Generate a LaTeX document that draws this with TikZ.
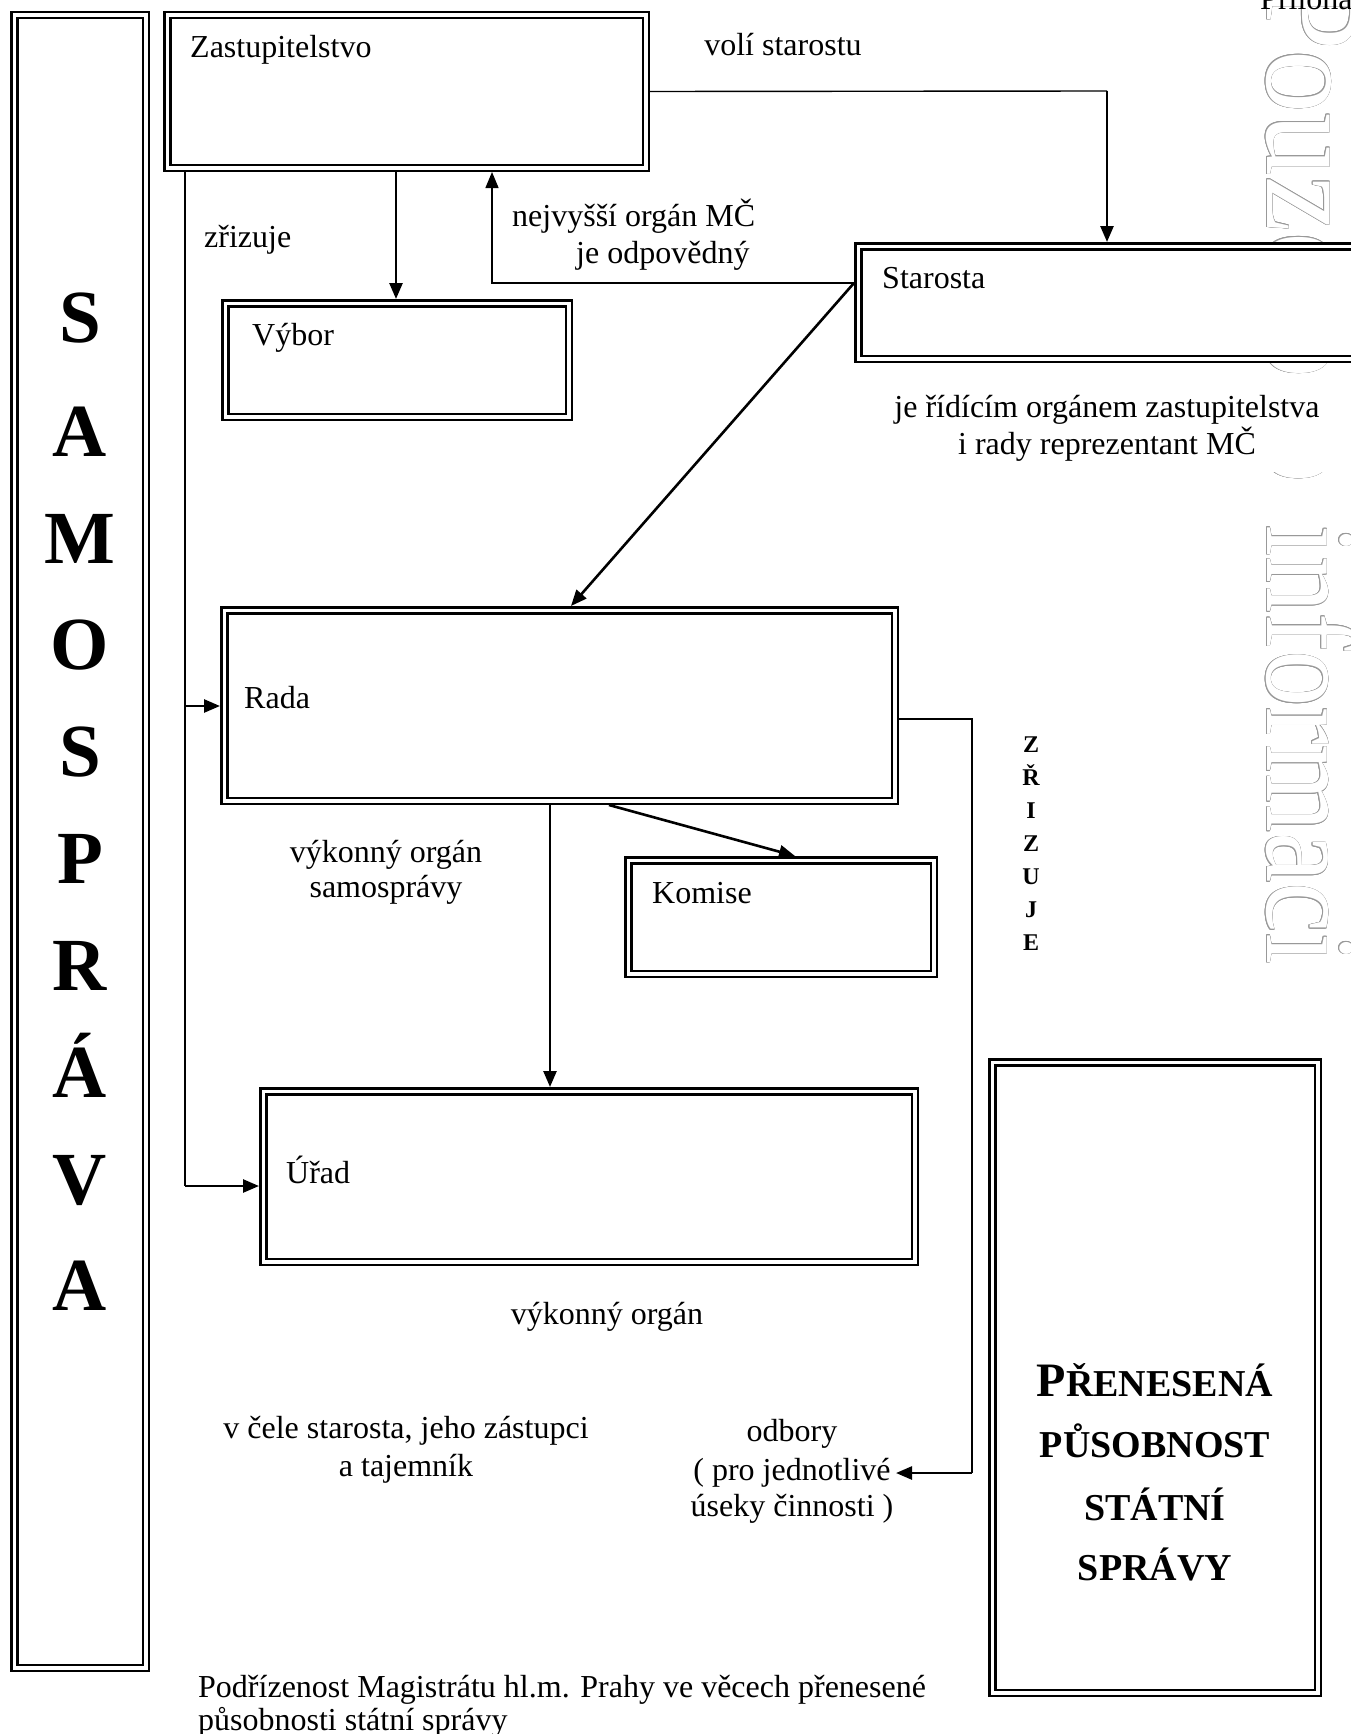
\documentclass[tikz,border=0pt]{standalone}
\usepackage{fontspec}
\usepackage{graphicx}
\setmainfont{Liberation Serif}
\usetikzlibrary{arrows.meta,calc}
\newcommand\bodyfont{\fontsize{32}{38}\selectfont}
\newcommand\ddbox[5]{\node[dbox, minimum width={#4-#2-8.5}, minimum height={#5-#3-8.5}] (#1) at ({(#2+#4)/2},{(#3+#5)/2}) {};}
% outlined watermark word: name, start y, size, vertical scale, text
\newcommand\wmword[5]{%
  \foreach \a in {0,30,...,330}{\node[wm, text=gray!80, font=\fontsize{#3}{#3}\selectfont] at ($(1267,#2)+(\a:0.55pt)$) {\scalebox{1}[#4]{#5}};}
  \node[wm, text=white, font=\fontsize{#3}{#3}\selectfont] (#1) at (1267,#2) {\scalebox{1}[#4]{#5}};}
\begin{document}
\begin{tikzpicture}[x=1pt,y=-1pt,
  dbox/.style={draw, double, double distance=3.5pt, line width=2.5pt, fill=white, inner sep=0pt, outer sep=4.25pt, rectangle},
  txt/.style={inner sep=0pt, font=\bodyfont, anchor=base west},
  txtc/.style={inner sep=0pt, font=\bodyfont, anchor=base},
  big/.style={inner sep=0pt, font=\fontsize{75}{80}\selectfont\bfseries, anchor=base},
  zr/.style={inner sep=0pt, font=\fontsize{24}{26}\selectfont\bfseries, anchor=base},
  pr/.style={inner sep=0pt, font=\fontsize{38}{40}\selectfont\bfseries, anchor=base},
  wm/.style={rotate=-90, anchor=base west, inner sep=0pt},
  tip/.tip={Triangle[length=16pt,width=13pt]},
  arr/.style={line width=2.6pt, -tip},
  thinl/.style={line width=1.4pt},
  thinarr/.style={line width=1.4pt, -tip}
]
\useasboundingbox (0,0) rectangle (1351,1734);
\clip (0,0) rectangle (1351,1734);
\fill[white] (0,0) rectangle (1351,1734);

% watermark (outlined, partly hidden)
\wmword{wm1}{-20}{126}{1.08}{Pouze}
\wmword{wm2}{315}{126}{1.08}{pro}
\wmword{wm3}{525}{113}{1.15}{informaci}

\node[txt] (priloha) at (1260,10) {Příloha};

% boxes
\ddbox{samo}{10}{11}{150}{1672}
\ddbox{zast}{163}{11}{650}{172}
\ddbox{staro}{854}{242}{1420}{363}
\ddbox{vybor}{221}{299}{573}{421}
\ddbox{rada}{220}{606}{899}{805}
\ddbox{komise}{624}{856}{938}{978}
\ddbox{urad}{259}{1087}{919}{1266}
\ddbox{pren}{988}{1058}{1322}{1697}

% box texts
\node[txt] (tzast) at (190,58) {Zastupitelstvo};
\node[txt] (tstaro) at (882,288) {Starosta};
\node[txt] (tvybor) at (252,345) {Výbor};
\node[txt] (trada) at (244,708) {Rada};
\node[txt] (tkomise) at (652,903) {Komise};
\node[txt] (turad) at (286,1183) {Úřad};

% SAMOSPRAVA
\node[big] (s1) at (80,342) {S};
\node[big] (s2) at (80,456) {A};
\node[big] (s3) at (80,563) {M};
\node[big] (s4) at (80,669) {O};
\node[big] (s5) at (80,776) {S};
\node[big] (s6) at (80,883) {P};
\node[big] (s7) at (80,990) {R};
\node[big] (s8) at (80,1097) {Á};
\node[big] (s9) at (80,1204) {V};
\node[big] (s10) at (80,1310) {A};

% PRENESENA
\node[inner sep=0pt, anchor=base, font=\bfseries] (p1) at (1155,1396) {{\fontsize{48}{50}\selectfont P}{\fontsize{38}{40}\selectfont ŘENESENÁ}};
\node[pr] (p2) at (1155,1457) {PŮSOBNOST};
\node[pr] (p3) at (1155,1520) {STÁTNÍ};
\node[pr] (p4) at (1155,1580) {SPRÁVY};

% ZRIZUJE
\node[zr] (z1) at (1031,752) {Z};
\node[zr] (z2) at (1031,785) {Ř};
\node[zr] (z3) at (1031,818) {I};
\node[zr] (z4) at (1031,851) {Z};
\node[zr] (z5) at (1031,884) {U};
\node[zr] (z6) at (1031,917) {J};
\node[zr] (z7) at (1031,950) {E};

% labels
\node[txtc] (lvoli) at (783,56) {volí starostu};
\node[txt] (lzriz) at (204,247) {zřizuje};
\node[txt] (lnejv) at (512,226) {nejvyšší orgán MČ};
\node[txt] (lodp) at (576,263) {je odpovědný};
\fill[white] (880,377) rectangle (1351,472);
\node[txtc] (lridi1) at (1107,417) {je řídícím orgánem zastupitelstva};
\node[txtc] (lridi2) at (1107,454) {i rady reprezentant MČ};
\node[txtc] (lvyk1) at (386,862) {výkonný orgán};
\node[txtc] (lvyk2) at (386,897) {samosprávy};
\node[txtc] (lvyk3) at (607,1324) {výkonný orgán};
\node[txtc] (lcele1) at (406,1438) {v čele starosta, jeho zástupci};
\node[txtc] (lcele2) at (406,1476) {a tajemník};
\node[txtc] (lodb1) at (792,1441) {odbory};
\node[txtc] (lodb2) at (792,1480) {( pro jednotlivé};
\node[txtc] (lodb3) at (792,1516) {úseky činnosti )};
\node[txt] (lpod1) at (198,1697) {Podřízenost Magistrátu hl.m. Prahy ve věcech přenesené};
\node[txt] (lpod2) at (198,1730) {působnosti státní správy};

% connectors
\coordinate (c1) at (1107,91);
\draw[thinl] (zast.east) -- (c1);
\draw[arr] (c1) -- (c1 |- staro.north);
\draw[arr] (zast.south -| 396,0) -- (vybor.north -| 396,0);
\draw[thinarr] (staro.west |- 0,283) -| (zast.south -| 492,0);
\draw[arr] (staro.west |- 0,283) -- (rada.north -| 571,0);
\coordinate (c2) at (185,1186);
\coordinate (c3) at (185,706);
\draw[thinl] (zast.south -| 185,0) -- (c2);
\draw[arr] (c2) -- (urad.west |- c2);
\draw[arr] (c3) -- (rada.west |- c3);
\draw[arr] (rada.south -| 550,0) -- (urad.north -| 550,0);
\draw[arr] (rada.south -| 609,0) -- (komise.north -| 795,0);
\coordinate (c4) at (972,719);
\coordinate (c5) at (972,1473);
\coordinate (odtip) at (896,1473);
\draw[thinl] (rada.east |- c4) -- (c4) -- (c5);
\draw[arr] (c5) -- (odtip);
\end{tikzpicture}
\end{document}
